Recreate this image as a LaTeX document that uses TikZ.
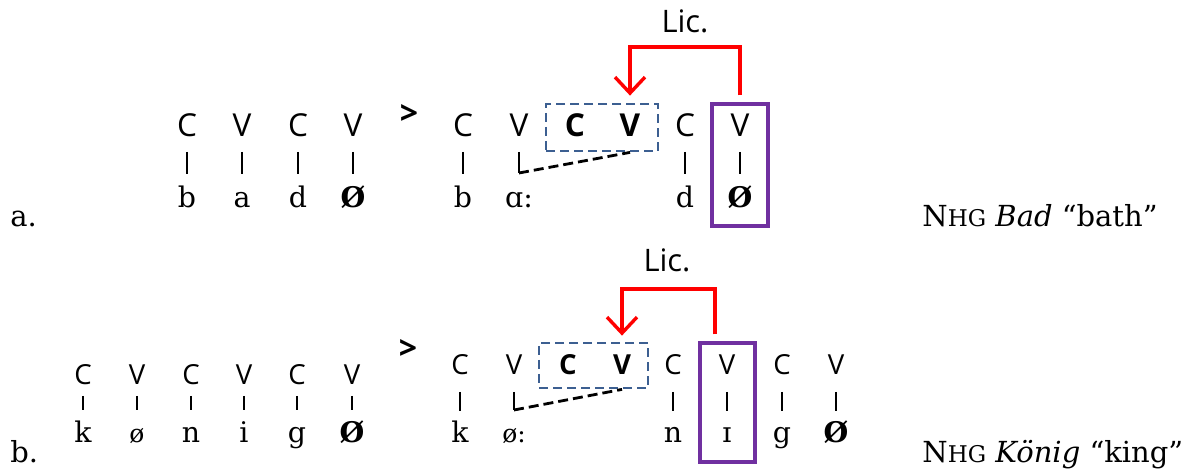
\documentclass[tikz,border=0pt]{standalone}
\usepackage{fontspec}
\setmainfont{DejaVu Serif}
\newfontfamily\cvfont{Open Sans}
\usepackage{xcolor}
\usetikzlibrary{arrows.meta}
\definecolor{boxblue}{HTML}{3C5F91}
\definecolor{boxpurple}{HTML}{7030A0}

\begin{document}
\begin{tikzpicture}[x=0.5pt, y=-0.5pt,
	skelA/.style={anchor=base, inner sep=0pt, font=\cvfont\fontsize{15.8}{16}\selectfont},
	skelB/.style={anchor=base, inner sep=0pt, font=\cvfont\fontsize{13.8}{14}\selectfont},
	seg/.style={anchor=base, inner sep=0pt, font=\fontsize{14.2}{15}\selectfont},
	smallseg/.style={seg, font=\fontsize{12.5}{13}\selectfont},
	barA/.style={line width=0.9pt, shorten <=7.5pt, shorten >=17pt},
	barBl/.style={line width=0.9pt, shorten <=5.5pt, shorten >=16.5pt},
	barBr/.style={line width=0.9pt, shorten <=8.5pt, shorten >=16pt},
	link/.style={line width=1.4pt, dash pattern=on 5pt off 2.5pt},
	cvbox/.style={draw=boxblue, line width=1.4pt, dash pattern=on 4.5pt off 2.5pt, inner sep=0pt},
	licbox/.style={draw=boxpurple, line width=1.6pt, inner sep=0pt},
	lic/.style={draw=red, line width=1.7pt, -{Straight Barb[length=8pt, width=15pt]}},
	liclabel/.style={anchor=base, inner sep=0pt, font=\cvfont\fontsize{15.5}{16}\selectfont},
	chev/.style={inner sep=0pt, font=\cvfont\bfseries\fontsize{16}{16}\selectfont},
	label/.style={anchor=base west, inner sep=0pt, font=\fontsize{14.5}{16}\selectfont},
	gloss/.style={label, font=\fontsize{14.5}{16}\selectfont}]
	\useasboundingbox (0,0) rectangle (1188,469);

	% a. Bad
	\node[label] (itemA) at (10,227) {a.};
	\node[skelA] (la1) at (187,137) {C};
	\node[skelA] (la2) at (242,137) {V};
	\node[skelA] (la3) at (298,137) {C};
	\node[skelA] (la4) at (353,137) {V};
	\node[seg] (sla1) at (187,208) {b};
	\node[seg] (sla2) at (242,208) {a};
	\node[seg] (sla3) at (298,208) {d};
	\node[seg] (sla4) at (353,208) {\textbf{Ø}};
	\draw[barA] (la1.base) -- (sla1.base);
	\draw[barA] (la2.base) -- (sla2.base);
	\draw[barA] (la3.base) -- (sla3.base);
	\draw[barA] (la4.base) -- (sla4.base);

	\node[chev] (chevA) at (409,115) {>};

	\node[skelA] (ra1) at (463,137) {C};
	\node[skelA] (ra2) at (519,137) {V};
	\node[skelA] (ra3) at (575,137) {\textbf{C}};
	\node[skelA] (ra4) at (630,137) {\textbf{V}};
	\node[skelA] (ra5) at (685,137) {C};
	\node[skelA] (ra6) at (740,137) {V};
	\node[seg] (sra1) at (463,208) {b};
	\node[seg] (sra2) at (519,208) {ɑ:};
	\node[seg] (sra5) at (685,208) {d};
	\node[seg] (sra6) at (740,208) {\textbf{Ø}};
	\draw[barA] (ra1.base) -- (sra1.base);
	\draw[barA] (ra5.base) -- (sra5.base);
	\draw[barA] (ra6.base) -- (sra6.base);

	\node[cvbox, minimum width=56pt, minimum height=23.5pt] (boxA) at (602,127.5) {};
	\node[licbox, minimum width=28pt, minimum height=61pt] (pboxA) at (740,165) {};
	\coordinate (kinkA) at (519,173);
	\draw[line width=0.9pt, shorten <=7.5pt] (ra2.base) -- (kinkA);
	\draw[link] (kinkA) -- (boxA.south -| ra4);

	\coordinate (topA) at (685,47);
	\node[liclabel] (licA) at (685,33) {Lic.};
	\draw[lic] ([yshift=3.5pt]pboxA.north) |- (topA) -| ([yshift=3.5pt]boxA.north -| ra4);

	\node[gloss] (glossA) at (922,227) {N{\fontsize{11.5}{12}\selectfont HG} \textit{Bad} “bath”};

	% b. Koenig
	\node[label] (itemB) at (10,463) {b.};
	\node[skelB] (lb1) at (83,385) {C};
	\node[skelB] (lb2) at (137,385) {V};
	\node[skelB] (lb3) at (191,385) {C};
	\node[skelB] (lb4) at (244,385) {V};
	\node[skelB] (lb5) at (297,385) {C};
	\node[skelB] (lb6) at (352,385) {V};
	\node[seg] (slb1) at (83,443) {k};
	\node[smallseg] (slb2) at (137,443) {ø};
	\node[seg] (slb3) at (191,443) {n};
	\node[seg] (slb4) at (244,443) {i};
	\node[seg] (slb5) at (297,443) {g};
	\node[seg] (slb6) at (352,443) {\textbf{Ø}};
	\draw[barBl] (lb1.base) -- (slb1.base);
	\draw[barBl] (lb2.base) -- (slb2.base);
	\draw[barBl] (lb3.base) -- (slb3.base);
	\draw[barBl] (lb4.base) -- (slb4.base);
	\draw[barBl] (lb5.base) -- (slb5.base);
	\draw[barBl] (lb6.base) -- (slb6.base);

	\node[chev] (chevB) at (408,350) {>};

	\node[skelB] (rb1) at (460,375) {C};
	\node[skelB] (rb2) at (514,375) {V};
	\node[skelB] (rb3) at (568,375) {\textbf{C}};
	\node[skelB] (rb4) at (622,375) {\textbf{V}};
	\node[skelB] (rb5) at (673,375) {C};
	\node[skelB] (rb6) at (727,375) {V};
	\node[skelB] (rb7) at (782,375) {C};
	\node[skelB] (rb8) at (836,375) {V};
	\node[seg] (srb1) at (460,443) {k};
	\node[smallseg] (srb2) at (514,443) {ø:};
	\node[seg] (srb5) at (673,443) {n};
	\node[seg] (srb6) at (727,443) {ɪ};
	\node[seg] (srb7) at (782,443) {g};
	\node[seg] (srb8) at (836,443) {\textbf{Ø}};
	\draw[barBr] (rb1.base) -- (srb1.base);
	\draw[barBr] (rb5.base) -- (srb5.base);
	\draw[barBr] (rb6.base) -- (srb6.base);
	\draw[barBr] (rb7.base) -- (srb7.base);
	\draw[barBr] (rb8.base) -- (srb8.base);

	\node[cvbox, minimum width=54.5pt, minimum height=22.5pt] (boxB) at (593.5,365.5) {};
	\node[licbox, minimum width=27.5pt, minimum height=59.5pt] (pboxB) at (727.5,402.5) {};
	\coordinate (kinkB) at (514,410);
	\draw[line width=0.9pt, shorten <=8.5pt] (rb2.base) -- (kinkB);
	\draw[link] (kinkB) -- (boxB.south -| rb4);

	\coordinate (topB) at (667,289);
	\node[liclabel] (licB) at (667,272) {Lic.};
	\draw[lic] ([xshift=-6.25pt, yshift=3.5pt]pboxB.north) |- (topB) -| ([yshift=3pt]boxB.north -| rb4);

	\node[gloss] (glossB) at (922,463) {N{\fontsize{11.5}{12}\selectfont HG} \textit{König} “king”};
\end{tikzpicture}
\end{document}
